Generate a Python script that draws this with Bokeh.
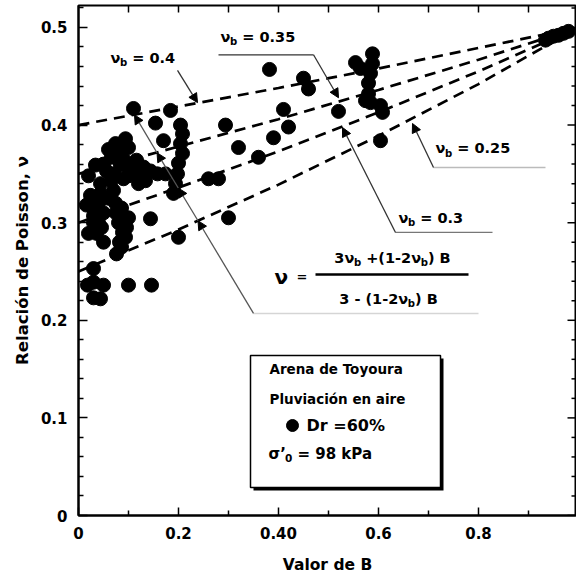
import math
from bokeh.plotting import figure
from bokeh.models import (Range1d, FixedTicker, ColumnDataSource, Arrow,
                          NormalHead, Title, CustomJSTickFormatter)
from bokeh.core.properties import value
from bokeh.embed import file_html
from bokeh.resources import INLINE

FONT = "DejaVu Sans"

# ---------------- data ----------------
b_pts = [0.110, 0.184, 0.154, 0.204, 0.170, 0.294,
         0.208, 0.204, 0.208, 0.200, 0.198, 0.194, 0.190, 0.174, 0.158, 0.144,
         0.074, 0.094, 0.100, 0.116, 0.130, 0.120, 0.134, 0.066, 0.056, 0.066, 0.084, 0.100,
         0.060, 0.080, 0.090, 0.104, 0.110, 0.050, 0.070, 0.090, 0.120, 0.060, 0.050,
         0.044, 0.044, 0.040, 0.030, 0.030, 0.046, 0.020, 0.036, 0.050, 0.024, 0.016, 0.034, 0.020,
         0.040, 0.030, 0.075, 0.080, 0.088, 0.082,
         0.070, 0.074, 0.086, 0.100, 0.096, 0.094, 0.086, 0.076,
         0.144, 0.200, 0.260, 0.280, 0.300, 0.320, 0.360,
         0.030, 0.030, 0.018, 0.050, 0.100, 0.146, 0.030, 0.044,
         0.382, 0.450, 0.460, 0.410, 0.420, 0.390, 0.520,
         0.554, 0.564, 0.588, 0.588, 0.584, 0.580, 0.580, 0.584, 0.574, 0.604, 0.608, 0.604,
         0.934, 0.940, 0.950, 0.960, 0.970, 0.980]
nu_pts = [0.417, 0.415, 0.402, 0.400, 0.384, 0.400,
          0.391, 0.381, 0.371, 0.361, 0.350, 0.340, 0.330, 0.350, 0.350, 0.353,
          0.381, 0.386, 0.377, 0.364, 0.357, 0.351, 0.343, 0.367, 0.353, 0.343, 0.359, 0.348,
          0.375, 0.372, 0.365, 0.360, 0.352, 0.360, 0.350, 0.345, 0.340, 0.325, 0.310,
          0.340, 0.330, 0.320, 0.307, 0.300, 0.295, 0.289, 0.289, 0.280, 0.328, 0.318, 0.359, 0.348,
          0.300, 0.315, 0.310, 0.300, 0.290, 0.280,
          0.333, 0.320, 0.315, 0.305, 0.295, 0.285, 0.275, 0.268,
          0.304, 0.285, 0.345, 0.345, 0.305, 0.377, 0.367,
          0.253, 0.239, 0.236, 0.236, 0.236, 0.236, 0.223, 0.222,
          0.457, 0.448, 0.437, 0.416, 0.398, 0.387, 0.414,
          0.464, 0.458, 0.473, 0.463, 0.453, 0.443, 0.432, 0.423, 0.425, 0.420, 0.413, 0.384,
          0.487, 0.489, 0.491, 0.492, 0.494, 0.496]

curve_B = [0.0, 0.2, 0.4, 0.6, 0.8, 1.0]
nu_b_040 = [0.400, 0.419, 0.438, 0.458, 0.479, 0.500]
nu_b_035 = [0.350, 0.378, 0.406, 0.436, 0.467, 0.500]
nu_b_030 = [0.300, 0.336, 0.373, 0.413, 0.455, 0.500]
nu_b_025 = [0.250, 0.293, 0.339, 0.389, 0.442, 0.500]

x_ticks = [0.0, 0.2, 0.4, 0.6, 0.8]
x_tick_labels = ["0", "0.2", "0.40", "0.6", "0.8"]
x_minor = [0.1, 0.3, 0.5, 0.7, 0.9]
top_ticks = [0.1, 0.2, 0.3, 0.4, 0.5, 0.6, 0.7, 0.8, 0.9]
y_ticks = [0.0, 0.1, 0.2, 0.3, 0.4, 0.5]
y_tick_labels = ["0", "0.1", "0.2", "0.3", "0.4", "0.5"]
y_minor = [0.02, 0.04, 0.06, 0.08, 0.12, 0.14, 0.16, 0.18, 0.22, 0.24, 0.26, 0.28,
           0.32, 0.34, 0.36, 0.38, 0.42, 0.44, 0.46, 0.48, 0.52]

X_END = 0.996
Y_END = 0.5225

# ---------------- figure ----------------
p = figure(width=576, height=577, x_range=Range1d(0, X_END), y_range=Range1d(0, Y_END),
           output_backend="svg", toolbar_location=None,
           min_border_left=78, min_border_right=0, min_border_top=5, min_border_bottom=62)
p.xgrid.visible = False
p.ygrid.visible = False
p.outline_line_color = "black"
p.outline_line_width = 2
p.background_fill_color = "white"
p.border_fill_color = "white"


def fmt(tick_vals, tick_labs):
    return CustomJSTickFormatter(args=dict(tv=tick_vals, tl=tick_labs), code="""
        for (let i = 0; i < tv.length; i++) {
            if (Math.abs(tv[i] - tick) < 1e-9) { return tl[i]; }
        }
        return '';
    """)


def style_axis(ax, tick_vals, minor, labels, major_in, minor_in):
    ax.ticker = FixedTicker(ticks=tick_vals, minor_ticks=minor)
    ax.axis_line_width = 2
    ax.axis_line_color = "black"
    ax.major_tick_in = major_in
    ax.major_tick_out = 0
    ax.minor_tick_in = minor_in
    ax.minor_tick_out = 0
    ax.major_tick_line_width = 1.5
    ax.minor_tick_line_width = 1.5
    ax.major_tick_line_color = "black"
    ax.minor_tick_line_color = "black"
    ax.formatter = fmt(tick_vals, labels)
    ax.major_label_text_font = FONT
    ax.major_label_text_font_style = "bold"
    ax.major_label_text_font_size = "15px"
    ax.major_label_text_color = "black"


xa = p.xaxis[0]
style_axis(xa, x_ticks, x_minor, x_tick_labels, 8, 5)
xa.major_label_standoff = 11
xa.axis_label = "Valor de B"
xa.axis_label_text_font = FONT
xa.axis_label_text_font_style = "bold"
xa.axis_label_text_font_size = "15.5px"
xa.axis_label_text_color = "black"
xa.axis_label_standoff = 14

ya = p.yaxis[0]
style_axis(ya, y_ticks, y_minor, y_tick_labels, 9, 5)
ya.major_label_standoff = 11

p.add_layout(Title(text="Relación de Poisson, ν", align="center", offset=34, standoff=12,
                   text_font=FONT, text_font_style="bold", text_font_size="16.5px",
                   text_color="black"), "left")

# mirrored ticks on top and right (frame edges)
p.ray(x=top_ticks, y=[Y_END] * len(top_ticks), length=7, length_units="screen",
      angle=-math.pi / 2, line_color="black", line_width=1.5)
p.ray(x=[X_END] * len(y_ticks), y=y_ticks, length=9, length_units="screen",
      angle=math.pi, line_color="black", line_width=1.5)
p.ray(x=[X_END] * len(y_minor), y=y_minor, length=5, length_units="screen",
      angle=math.pi, line_color="black", line_width=1.5)

# ---------------- curves ----------------
for nu_list in (nu_b_040, nu_b_035, nu_b_030, nu_b_025):
    p.line(curve_B, nu_list, line_color="black", line_width=2.7, line_dash="11 7")

# ---------------- leaders ----------------
LEAD = "#333333"


def arrow(x0, y0, x1, y1, color=LEAD):
    p.add_layout(Arrow(end=NormalHead(size=9, fill_color="black", line_color="black", line_width=1),
                       x_start=x0, y_start=y0, x_end=x1, y_end=y1,
                       line_color=color, line_width=1.3))


# nu_b = 0.4
arrow(0.198, 0.456, 0.238, 0.423)
# nu_b = 0.35
p.line([0.280, 0.470], [0.472, 0.472], line_color=LEAD, line_width=1.3)
arrow(0.470, 0.472, 0.520, 0.428)
# nu_b = 0.3
p.line([0.634, 0.828], [0.290, 0.290], line_color="#777777", line_width=1.3)
arrow(0.634, 0.290, 0.528, 0.3975)
# nu_b = 0.25
p.line([0.710, 0.934], [0.3566, 0.3566], line_color="#bbbbbb", line_width=1.5)
arrow(0.710, 0.3566, 0.668, 0.4016)
# formula leader with arrow heads at each curve
p.line([0.350, 0.800], [0.207, 0.207], line_color="#d5d5d5", line_width=1.5)
lead_x = [0.350, 0.239, 0.1995, 0.157, 0.112]
lead_y = [0.207, 0.302, 0.3355, 0.3716, 0.4104]
for i in range(len(lead_x) - 1):
    arrow(lead_x[i], lead_y[i], lead_x[i + 1], lead_y[i + 1], color="#555555")

# ---------------- data points ----------------
p.scatter(b_pts, nu_pts, size=14, marker="circle", fill_color="black", line_color="black")

# ---------------- legend box ----------------
p.quad(left=[0.350], right=[0.730], top=[0.1609], bottom=[0.0256], fill_color="black", line_color=None)
p.quad(left=[0.344], right=[0.724], top=[0.1639], bottom=[0.0287], fill_color="white",
       line_color="black", line_width=1.5)
p.scatter([0.428], [0.0922], size=12, marker="circle", fill_color="black", line_color="black")

# ---------------- rich texts ----------------
W = {' ': .348, '.': .380, '=': .838, '+': .838, '(': .457, ')': .457, '-': .415, 'B': .762,
     'b': .716, 'ν': .652, 'σ': .716, '’': .380, 'k': .665, 'P': .733, 'a': .675, 'D': .830,
     'r': .493, '%': 1.002}
for d in "0123456789":
    W[d] = .696

rows = dict(x=[], y=[], text=[], xo=[], yo=[], fs=[])


def rich(x, y, parts, size, align="left"):
    widths = []
    for txt, kind in parts:
        s = size * 0.7 if kind == "s" else size
        widths.append(sum(W.get(c, .65) for c in txt) * s)
    off = -sum(widths) / 2 if align == "center" else 0.0
    for (txt, kind), w in zip(parts, widths):
        s = size * 0.7 if kind == "s" else size
        stripped = txt.lstrip(" ")
        lead = (len(txt) - len(stripped)) * W[' '] * s
        rows["x"].append(x)
        rows["y"].append(y)
        rows["text"].append(stripped)
        rows["xo"].append(off + lead)
        rows["yo"].append(size * 0.32 if kind == "s" else 0.0)
        rows["fs"].append("%.1fpx" % s)
        off += w


rich(0.064, 0.469, [("ν", "n"), ("b", "s"), (" = 0.4", "n")], 14.5)
rich(0.284, 0.490, [("ν", "n"), ("b", "s"), (" = 0.35", "n")], 14.5)
rich(0.714, 0.376, [("ν", "n"), ("b", "s"), (" = 0.25", "n")], 14.5)
rich(0.640, 0.305, [("ν", "n"), ("b", "s"), (" = 0.3", "n")], 14.5)
rich(0.392, 0.2439, [("ν", "n")], 20)
rich(0.436, 0.2449, [("=", "n")], 13)
rich(0.628, 0.2643, [("3ν", "n"), ("b", "s"), (" +(1-2ν", "n"), ("b", "s"), (") B", "n")], 14.5, "center")
rich(0.620, 0.2223, [("3 - (1-2ν", "n"), ("b", "s"), (") B", "n")], 14.5, "center")
rich(0.382, 0.1506, [("Arena de Toyoura", "n")], 13.5)
rich(0.382, 0.1189, [("Pluviación en aire", "n")], 13.5)
rich(0.456, 0.0922, [("Dr =60%", "n")], 16)
rich(0.380, 0.0635, [("σ’", "n"), ("0", "s"), (" = 98 kPa", "n")], 15)

src = ColumnDataSource(rows)
p.text(x="x", y="y", text="text", x_offset="xo", y_offset="yo", text_font_size="fs",
       source=src, text_font=value(FONT), text_font_style="bold", text_baseline="middle",
       text_align="left", text_color="black")

# fraction bar
p.line([0.474, 0.780], [0.2469, 0.2469], line_color="black", line_width=2.5)

open("out.html", "w").write(file_html(p, INLINE))
